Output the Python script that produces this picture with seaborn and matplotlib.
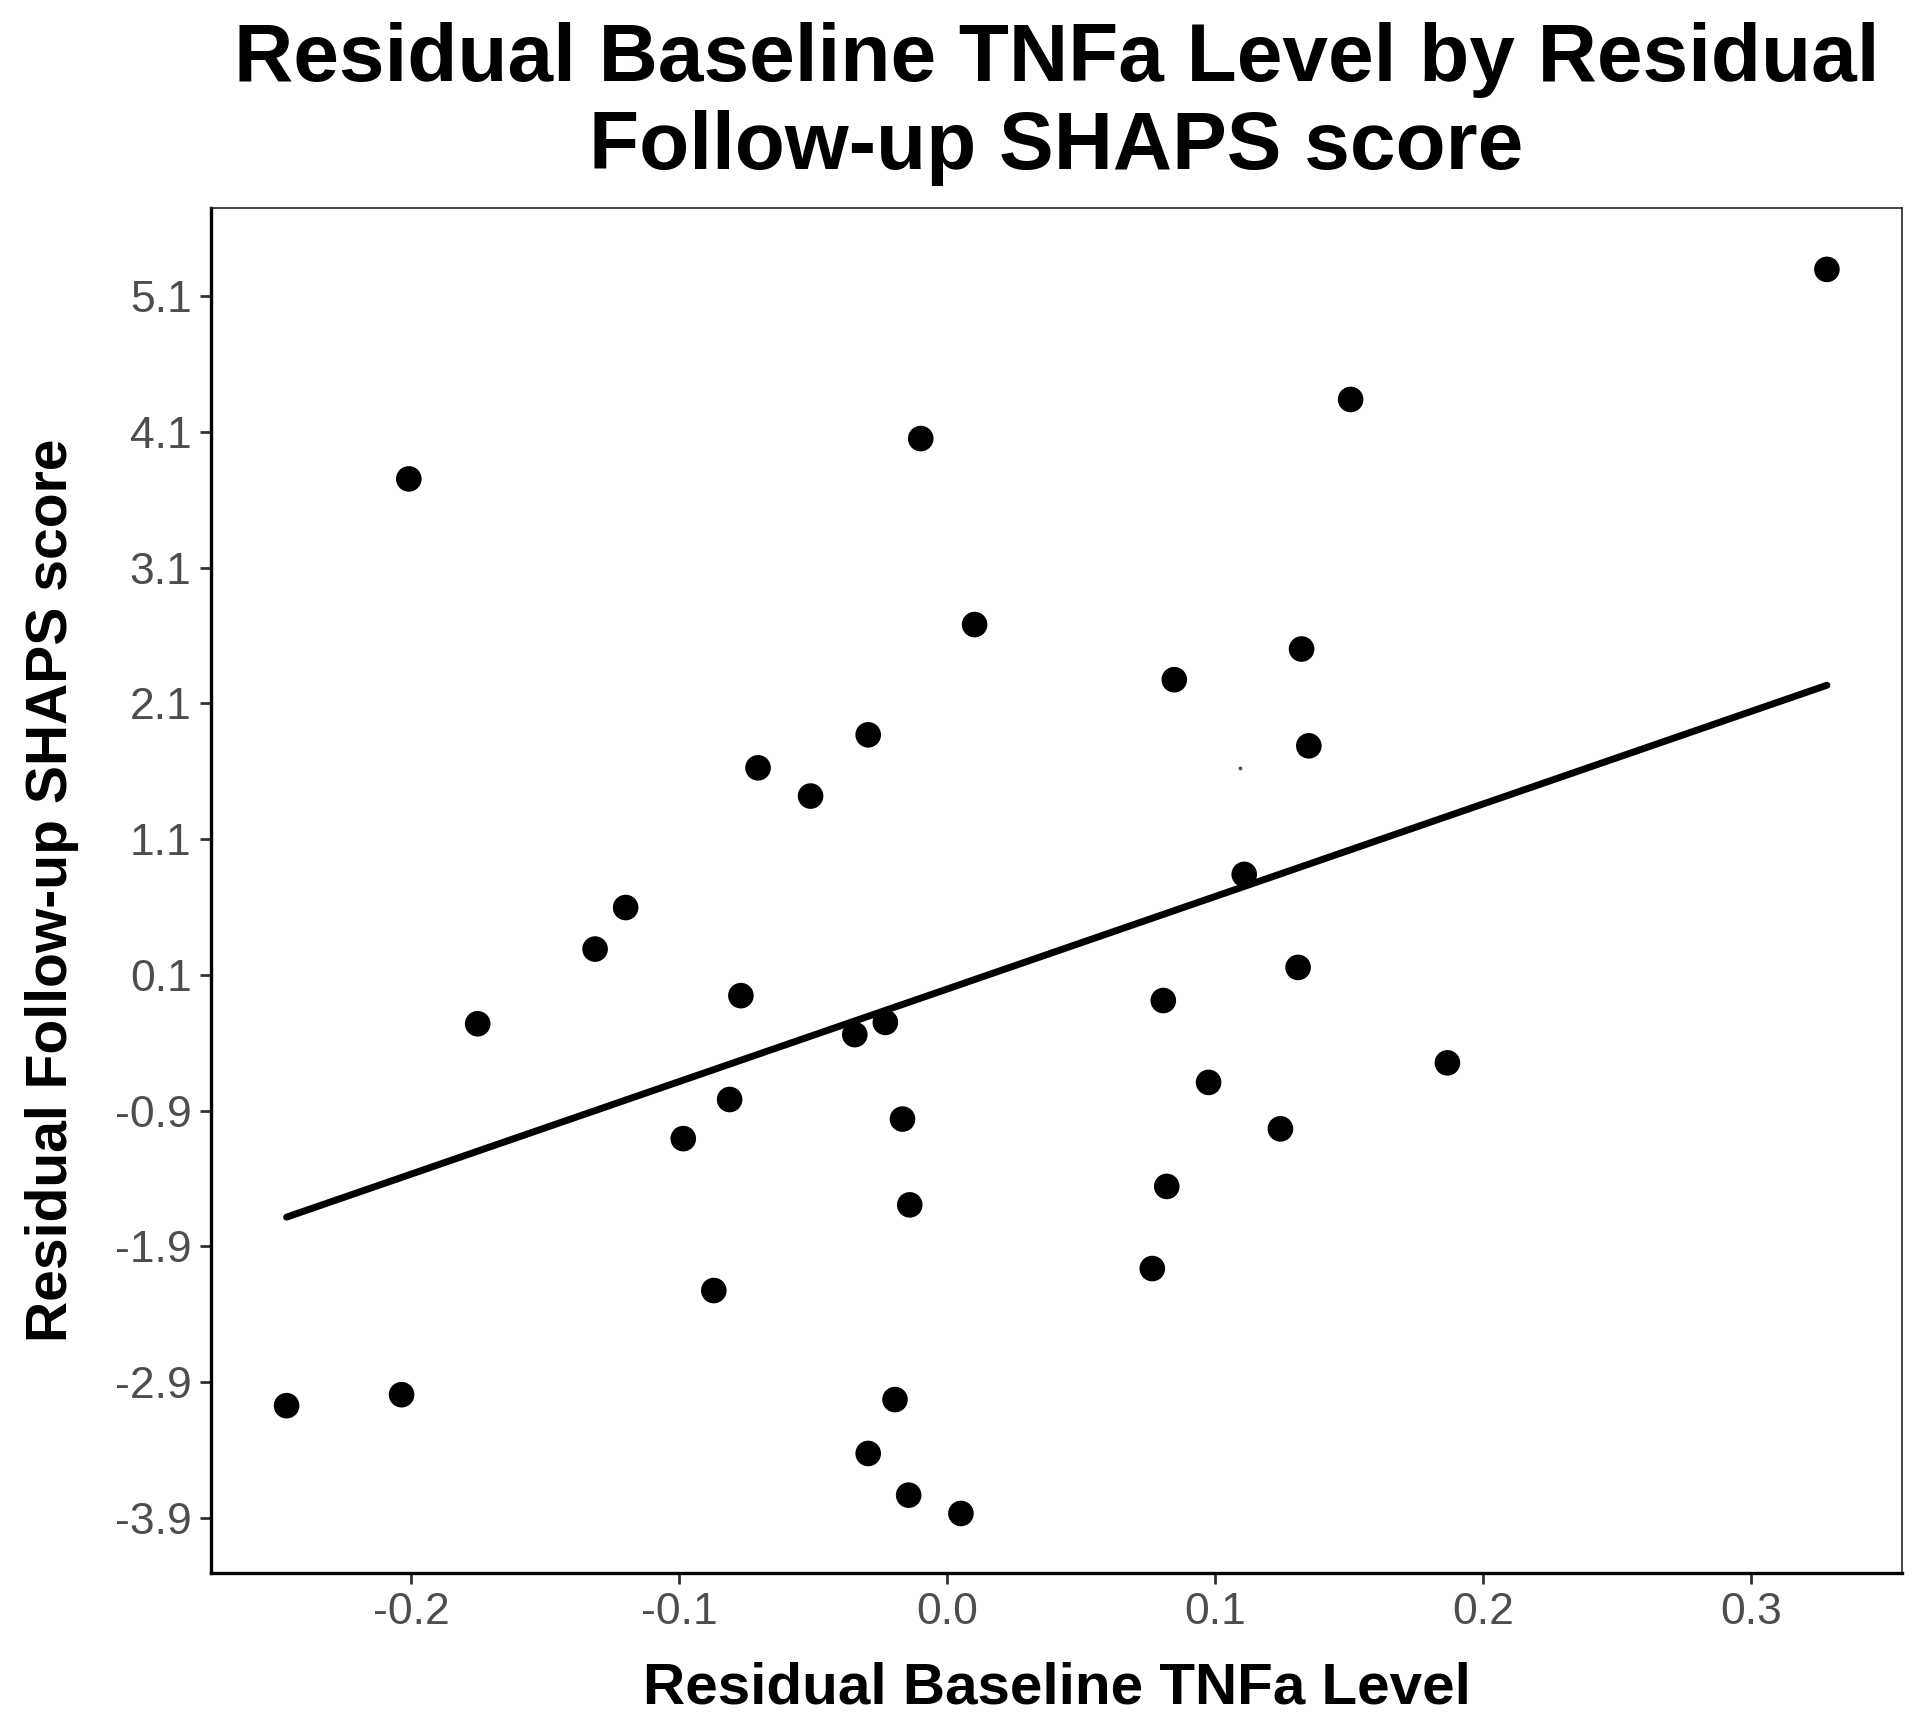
import matplotlib
matplotlib.use("Agg")
import matplotlib.pyplot as plt
import numpy as np
import pandas as pd
import seaborn as sns

# ── Data ─────────────────────────────────────────────────────────────────────
tnfa_resid = [
    0.3283, 0.1506, -0.0098, -0.2008, 0.0103, 0.1323, 0.0848, -0.0294,
    0.1350, -0.0705, -0.0509, 0.1109, -0.1199, -0.1313, 0.1310, -0.0769,
    0.0807, -0.1751, -0.0230, -0.0344, 0.1867, 0.0976, -0.0811, -0.0166,
    0.1244, -0.0984, 0.0820, -0.0139, 0.0766, -0.0870, -0.2035, -0.2464,
    -0.0194, -0.0294, -0.0143, 0.0052,
]
shaps_resid = [
    5.296, 4.338, 4.050, 3.753, 2.680, 2.500, 2.274, 1.868,
    1.787, 1.625, 1.417, 0.840, 0.596, 0.290, 0.155, -0.053,
    -0.089, -0.260, -0.250, -0.340, -0.548, -0.692, -0.818, -0.962,
    -1.034, -1.106, -1.458, -1.594, -2.063, -2.225, -2.992, -3.073,
    -3.028, -3.425, -3.732, -3.867,
]
# tiny speck visible in the source image
speck_x = [0.1095]
speck_y = [1.62]

x_ticks = [-0.2, -0.1, 0.0, 0.1, 0.2, 0.3]
y_ticks = [-3.9, -2.9, -1.9, -0.9, 0.1, 1.1, 2.1, 3.1, 4.1, 5.1]

df = pd.DataFrame({"tnfa": tnfa_resid, "shaps": shaps_resid})

sns.set_theme(style="ticks")
plt.rcParams["font.family"] = ["Liberation Sans", "DejaVu Sans"]
plt.rcParams["text.color"] = "black"
plt.rcParams["axes.labelcolor"] = "black"

fig = plt.figure(figsize=(19.2, 17.35), dpi=100)
ax = fig.add_axes([0.1099, 0.0934, 0.8807, 0.7867])

sns.regplot(data=df, x="tnfa", y="shaps", scatter=False, ci=None,
            color="black", line_kws={"linewidth": 5.0}, truncate=True, ax=ax)
sns.scatterplot(data=df, x="tnfa", y="shaps", color="black", s=340,
                edgecolor="none", ax=ax, zorder=3)
ax.scatter(speck_x, speck_y, s=8, color="#555555", edgecolor="none")

ax.set_xlim(-0.2746, 0.3563)
ax.set_ylim(-4.305, 5.748)
ax.set_xticks(x_ticks)
ax.set_xticklabels([f"{v:.1f}" for v in x_ticks])
ax.set_yticks(y_ticks)
ax.set_yticklabels([f"{v:.1f}" for v in y_ticks])

for side in ["top", "right"]:
    ax.spines[side].set_visible(True)
    ax.spines[side].set_linewidth(1.2)
for side in ["left", "bottom"]:
    ax.spines[side].set_linewidth(2.4)
    ax.spines[side].set_color("black")
ax.tick_params(axis="both", length=8, width=2.0, color="#333333",
               labelsize=32, labelcolor="#4d4d4d", pad=6)

ax.set_xlabel("Residual Baseline TNFa Level", fontsize=42,
              fontweight="bold", labelpad=20)
ax.set_ylabel("Residual Follow-up SHAPS score", fontsize=41,
              fontweight="bold", labelpad=26)
ax.set_title("Residual Baseline TNFa Level by Residual\nFollow-up SHAPS score",
             fontsize=59, fontweight="bold", pad=28, linespacing=1.2)

fig.savefig("out.png", dpi=100, facecolor="white")
